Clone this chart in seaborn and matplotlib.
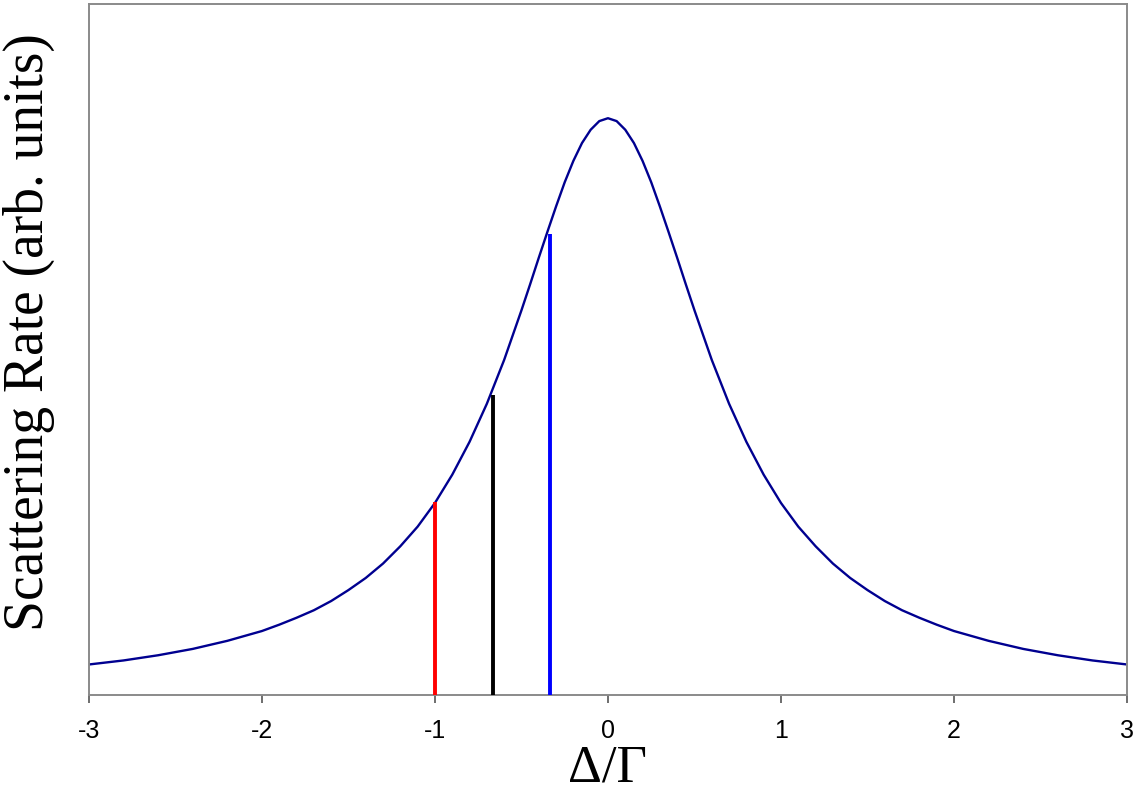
import matplotlib
matplotlib.use("Agg")
import matplotlib.pyplot as plt
import seaborn as sns
import pandas as pd

# ---- data ----
detuning = [-3.0, -2.8, -2.6, -2.4, -2.2, -2.0, -1.9, -1.8, -1.7, -1.6,
            -1.5, -1.4, -1.3, -1.2, -1.1, -1.0, -0.9, -0.8, -0.7, -0.6,
            -0.5, -0.45, -0.4, -0.35, -0.3, -0.25, -0.2, -0.15, -0.1, -0.05,
            0.0, 0.05, 0.1, 0.15, 0.2, 0.25, 0.3, 0.35, 0.4, 0.45,
            0.5, 0.6, 0.7, 0.8, 0.9, 1.0, 1.1, 1.2, 1.3, 1.4,
            1.5, 1.6, 1.7, 1.8, 1.9, 2.0, 2.2, 2.4, 2.6, 2.8, 3.0]
rate = [0.053, 0.060, 0.069, 0.080, 0.094, 0.111, 0.122, 0.134, 0.147, 0.163,
        0.182, 0.203, 0.228, 0.258, 0.292, 0.333, 0.382, 0.439, 0.505, 0.581,
        0.667, 0.712, 0.758, 0.803, 0.847, 0.889, 0.926, 0.957, 0.980, 0.995,
        1.000, 0.995, 0.980, 0.957, 0.926, 0.889, 0.847, 0.803, 0.758, 0.712,
        0.667, 0.581, 0.505, 0.439, 0.382, 0.333, 0.292, 0.258, 0.228, 0.203,
        0.182, 0.163, 0.147, 0.134, 0.122, 0.111, 0.094, 0.080, 0.069, 0.060, 0.053]

# laser detunings marked by vertical lines
marker_x = [-1.0, -0.667, -0.333]
marker_y = [0.334, 0.52, 0.80]
marker_colors = ["#ff0000", "#000000", "#0000ff"]

xticks = [-3, -2, -1, 0, 1, 2, 3]

df = pd.DataFrame({"detuning": detuning, "rate": rate})

sns.set_style("white")
plt.rcParams["font.family"] = ["Liberation Sans", "DejaVu Sans"]
plt.rcParams["text.color"] = "black"
plt.rcParams["xtick.color"] = "black"

fig = plt.figure(figsize=(11.4, 7.98), dpi=100)
ax = fig.add_axes([0.078, 0.129, 0.9106, 0.866])

sns.lineplot(data=df, x="detuning", y="rate", color="#000090", linewidth=1.7, ax=ax)

for xv, yv, c in zip(marker_x, marker_y, marker_colors):
    ax.vlines(xv, 0, yv, color=c, linewidth=2.8, zorder=3)

ax.set_xlim(-3, 3)
ax.set_ylim(0, 1.198)
ax.set_xticks(xticks)
ax.set_xticklabels([str(t) for t in xticks])
ax.set_yticks([])

for s in ax.spines.values():
    s.set_color("#8a8a8a")
    s.set_linewidth(1.4)

ax.tick_params(axis="x", direction="out", length=6, width=1.2, color="#555555",
               labelcolor="black", pad=11, labelsize=18, bottom=True)

ax.set_xlabel("Δ/Γ", fontsize=38, color="black",
              family=["Liberation Serif", "DejaVu Serif"], labelpad=1)
ax.set_ylabel("Scattering Rate (arb. units)", fontsize=40, color="black",
              family=["Liberation Serif", "DejaVu Serif"])
ax.yaxis.set_label_coords(-0.033, 0.525)

fig.savefig("out.png", dpi=100)
